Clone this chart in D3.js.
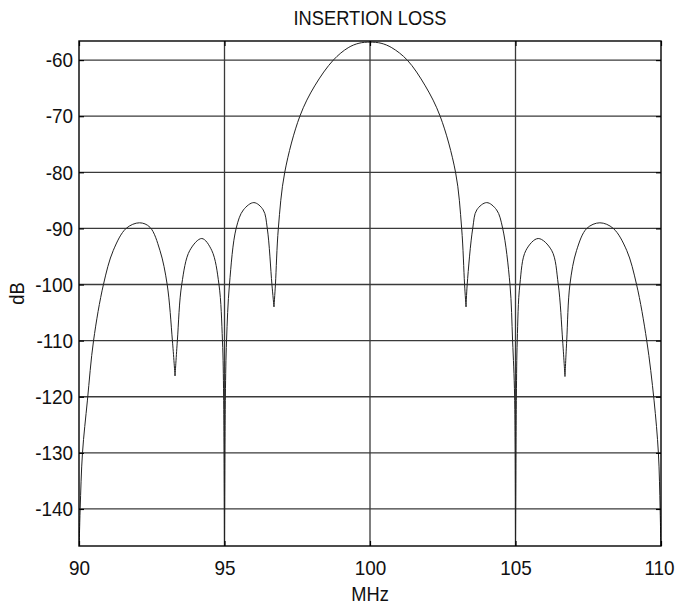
<!DOCTYPE html>
<html>
<head>
<meta charset="utf-8">
<script src="https://cdn.jsdelivr.net/npm/d3@7"></script>
<style>
  body { margin: 0; background: #fff; }
  text { font-family: "Liberation Sans", Arial, sans-serif; fill: #111; }
</style>
</head>
<body>
<svg id="chart" width="678" height="605"></svg>
<script>
// insertion loss (MHz, dB)
const lobe1 = [[90.0,-148],[90.04,-140],[90.12,-130],[90.29,-120.6],[90.50,-110],[90.84,-100],[91.18,-93.9],[91.62,-90.0],[92.08,-89.0],[92.44,-89.8],[92.78,-93.9],[93.03,-100],[93.21,-110],[93.30,-116.3]];
const lobe2 = [[93.30,-116.3],[93.38,-110],[93.53,-100],[93.81,-93.9],[94.22,-91.8],[94.56,-93.9],[94.81,-100],[94.93,-110],[94.97,-120],[95.0,-148]];
const lobe3 = [[95.0,-148],[95.03,-120],[95.07,-110],[95.17,-100],[95.40,-90],[95.65,-86.7],[96.01,-85.4],[96.33,-86.7],[96.47,-90],[96.63,-100],[96.70,-104.0]];
const mainLobe = [[96.70,-104],[96.75,-100],[96.85,-90],[97.07,-80],[97.59,-70],[98.10,-64.6],[98.74,-60],[99.25,-57.8],[99.62,-57.0],[100.0,-56.8],[100.38,-57.0],[100.75,-57.8],[101.28,-60],[101.90,-64.6],[102.41,-70],[102.94,-80],[103.15,-90],[103.25,-100],[103.30,-104]];
const lobe5 = [[103.30,-104],[103.34,-100],[103.53,-90],[103.67,-86.7],[104.01,-85.4],[104.35,-86.7],[104.56,-90],[104.81,-100],[104.90,-110],[104.97,-120],[105.0,-148]];
const lobe6 = [[105.0,-148],[105.03,-120],[105.06,-110],[105.15,-100],[105.36,-93.9],[105.78,-91.8],[106.24,-93.9],[106.47,-100],[106.62,-110],[106.70,-116.4]];
const lobe7 = [[106.70,-116.4],[106.76,-110],[106.87,-100],[107.10,-93.9],[107.45,-90],[107.90,-89.0],[108.36,-90],[108.82,-93.9],[109.16,-100],[109.51,-110],[109.76,-120.6],[109.91,-130],[109.97,-140],[110.0,-148]];
const lobes = [lobe1, lobe2, lobe3, mainLobe, lobe5, lobe6, lobe7];

const xTicks = [90, 95, 100, 105, 110];
const yTicks = [-60, -70, -80, -90, -100, -110, -120, -130, -140];

const margin = { top: 41, right: 17, bottom: 59, left: 79 };
const W = 678, H = 605;
const w = W - margin.left - margin.right;
const h = H - margin.top - margin.bottom;

const svg = d3.select("#chart");
const g = svg.append("g").attr("transform", `translate(${margin.left},${margin.top})`);

const x = d3.scaleLinear().domain([90, 110]).range([0, w]);
const y = d3.scaleLinear().domain([-146.6, -56.6]).range([h, 0]);

// grid
g.append("g").selectAll("line").data(yTicks).join("line")
  .attr("x1", 0).attr("x2", w)
  .attr("y1", d => y(d)).attr("y2", d => y(d))
  .attr("stroke", "#3a3a3a").attr("stroke-width", 1.3);
g.append("g").selectAll("line").data(xTicks.slice(1, -1)).join("line")
  .attr("y1", 0).attr("y2", h)
  .attr("x1", d => x(d)).attr("x2", d => x(d))
  .attr("stroke", "#3a3a3a").attr("stroke-width", 1.3);

// curve, one path per lobe so the nulls stay sharp
g.append("clipPath").attr("id", "clip").append("rect").attr("width", w).attr("height", h);
const line = d3.line().x(d => x(d[0])).y(d => y(d[1])).curve(d3.curveCatmullRom.alpha(0.5));
g.append("g").attr("clip-path", "url(#clip)")
  .selectAll("path").data(lobes).join("path")
  .attr("d", line)
  .attr("fill", "none")
  .attr("stroke", "#222")
  .attr("stroke-width", 1);

// axes with inward ticks
const fmt = d => String(d);  // plain hyphen like the original
g.append("g").attr("transform", `translate(0,${h})`)
  .call(d3.axisBottom(x).tickValues(xTicks).tickFormat(fmt).tickSizeInner(-5).tickSizeOuter(0).tickPadding(14));
g.append("g")
  .call(d3.axisLeft(y).tickValues(yTicks).tickFormat(fmt).tickSizeInner(-5).tickSizeOuter(0).tickPadding(6));
g.append("g").attr("transform", `translate(${w},0)`)
  .call(d3.axisRight(y).tickValues(yTicks).tickFormat("").tickSizeInner(-5).tickSizeOuter(0));
g.append("g")
  .call(d3.axisTop(x).tickValues(xTicks).tickFormat("").tickSizeInner(-5).tickSizeOuter(0));
g.selectAll(".domain").remove();
g.selectAll(".tick line").attr("stroke", "#000").attr("stroke-width", 1.2);
g.selectAll(".tick text").attr("font-size", 21).attr("font-family", '"Liberation Sans", Arial, sans-serif').attr("fill", "#111");

// frame
g.append("rect").attr("width", w).attr("height", h)
  .attr("fill", "none").attr("stroke", "#000").attr("stroke-width", 1.4);

// labels
svg.append("text").attr("class", "lbl").attr("x", margin.left + w / 2).attr("y", 25)
  .attr("text-anchor", "middle").attr("font-size", 21).text("INSERTION LOSS");
svg.append("text").attr("class", "lbl").attr("x", margin.left + w / 2).attr("y", 601)
  .attr("text-anchor", "middle").attr("font-size", 21).text("MHz");
svg.append("text").attr("class", "lbl")
  .attr("transform", `translate(24,${margin.top + h / 2}) rotate(-90)`)
  .attr("text-anchor", "middle").attr("font-size", 21).text("dB");

// the original lettering is narrow, squeeze the glyphs a little
function squeeze(sel, k) {
  sel.each(function () {
    const len = this.getComputedTextLength();
    d3.select(this).attr("textLength", len * k).attr("lengthAdjust", "spacingAndGlyphs");
  });
}
squeeze(svg.selectAll(".tick text"), 0.9);
squeeze(svg.selectAll("text.lbl"), 0.87);
// last x label sits on the page edge, nudge it in a touch
g.selectAll(".tick text").filter(d => d === 110).attr("dx", -2);
</script>
</body>
</html>
